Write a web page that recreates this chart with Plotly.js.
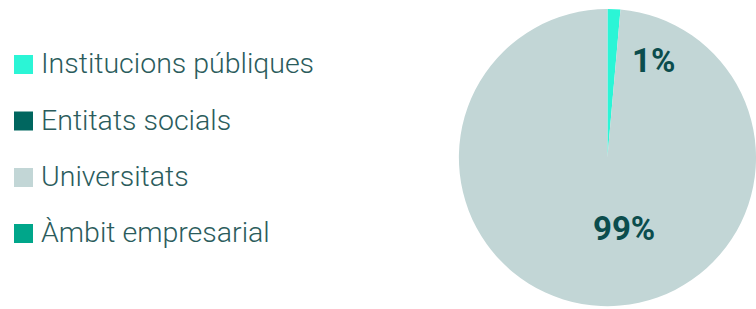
<!DOCTYPE html>
<html>
<head>
<meta charset="utf-8">
<script src="https://cdn.plot.ly/plotly-3.0.1.min.js"></script>
<style>html,body{margin:0;padding:0;background:#fff;}#chart{width:756px;height:309px;}</style>
</head>
<body>
<div id="chart"></div>
<script>
const categories = ["Institucions públiques", "Entitats socials", "Universitats", "Àmbit empresarial"];
const values = [1.4, 0, 98.6, 0];
const colors = ["#2BF5D6", "#00665F", "#C2D6D6", "#00A68A"];

const total = values.reduce((a, b) => a + b, 0);

const trace = {
  type: "pie",
  labels: categories,
  values: values,
  sort: false,
  direction: "clockwise",
  rotation: 0,
  marker: { colors: colors, line: { width: 0 } },
  textinfo: "none",
  hoverinfo: "label+percent",
  showlegend: false,
  domain: { x: [0.607, 1], y: [0.0, 0.98] }
};

const annotations = [];
const shapes = [];
const rowY = [64.5, 121, 177.5, 233.5];
categories.forEach((c, i) => {
  shapes.push({
    type: "rect", xref: "paper", yref: "paper",
    x0: 14 / 756, x1: 33 / 756,
    y0: 1 - (rowY[i] + 9.5) / 309, y1: 1 - (rowY[i] - 9.5) / 309,
    fillcolor: colors[i], line: { width: 0 }
  });
  annotations.push({
    xref: "paper", yref: "paper", x: 39 / 756, y: 1 - (rowY[i] - 1) / 309,
    xanchor: "left", yanchor: "middle", showarrow: false,
    text: c,
    font: { family: "Roboto", size: 28.5, weight: 300, color: "#2B5C5C" }
  });
});

const pctLabels = [
  { idx: 0, x: 653, y: 61 },
  { idx: 2, x: 624, y: 228 }
];
pctLabels.forEach(p => {
  annotations.push({
    xref: "paper", yref: "paper", x: p.x / 756, y: 1 - p.y / 309,
    xanchor: "center", yanchor: "middle", showarrow: false,
    text: Math.round(values[p.idx] / total * 100) + "%",
    font: { family: "Roboto", size: 33, weight: 700, color: "#0B4D4D" }
  });
});

const layout = {
  width: 756, height: 309,
  margin: { l: 0, r: 0, t: 0, b: 0 },
  paper_bgcolor: "#ffffff",
  plot_bgcolor: "#ffffff",
  showlegend: false,
  annotations: annotations,
  shapes: shapes
};

Plotly.newPlot("chart", [trace], layout, { displayModeBar: false, staticPlot: true });
</script>
</body>
</html>
